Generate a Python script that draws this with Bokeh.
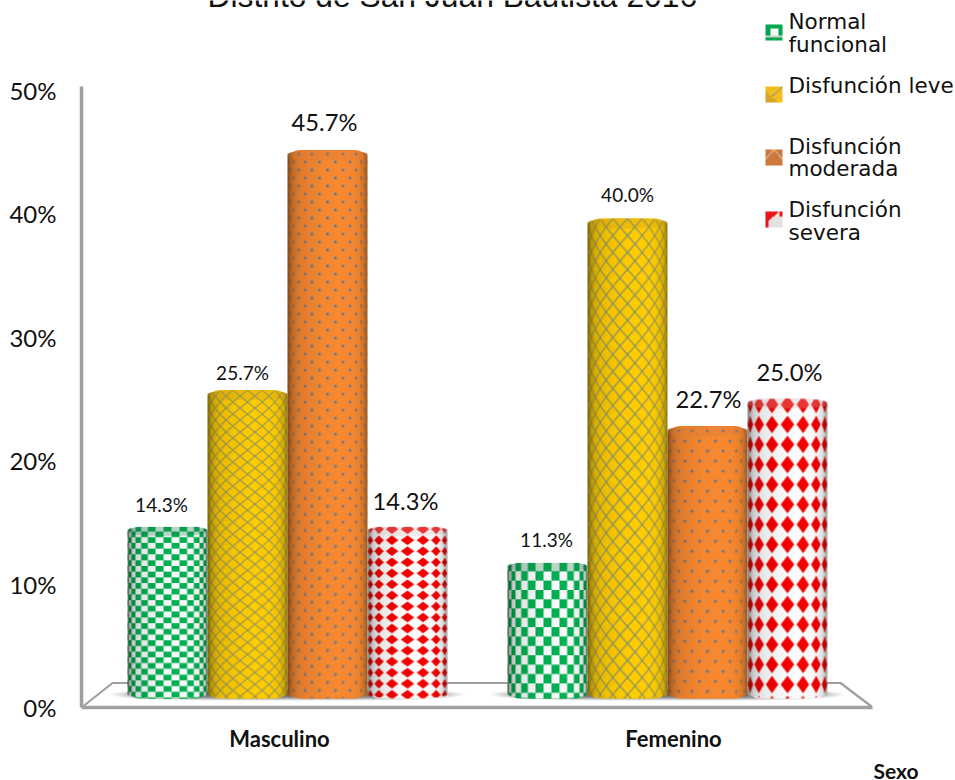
import numpy as np
from bokeh.core.properties import value
from bokeh.embed import file_html
from bokeh.models import FixedTicker, LinearAxis, Range1d
from bokeh.plotting import figure
from bokeh.resources import INLINE

# Percentages by sex and degree of dysfunction
groups = ["Masculino", "Femenino"]
series = ["Normal\nfuncional", "Disfunción leve", "Disfunción\nmoderada", "Disfunción\nsevera"]
masculino = [14.3, 25.7, 45.7, 14.3]
femenino = [11.3, 40.0, 22.7, 25.0]
y_ticks = [0, 10, 20, 30, 40, 50]
title_text = "Distrito de San Juan Bautista 2016"
x_title = "Sexo"

# Page geometry, in pixels
W, H = 955, 780
LEFT, AXIS_Y = 81, 707
GROUP_PX = 380.0
GROUP0_PX = 287.0
BAR_PX = 80
BAR_SCALE = 12.0
BAR_BASE = 698.0
AXIS_SCALE = 12.34


def xd(px):
    return (px - GROUP0_PX) / GROUP_PX


def yd(py):
    return (BAR_BASE - py) / BAR_SCALE


BAR_W = BAR_PX / GROUP_PX

# The frame runs to the bottom of the page so the axis name can sit below the x axis
p = figure(
    width=W, height=H, output_backend="svg", toolbar_location=None,
    x_axis_location=None, y_axis_location=None,
    x_range=Range1d(xd(LEFT), xd(W)), y_range=Range1d(yd(H), yd(0)),
    min_border_left=LEFT, min_border_right=0, min_border_top=0, min_border_bottom=0,
    background_fill_color="white", border_fill_color="white",
)
p.outline_line_color = None
p.grid.visible = False
p.extra_y_ranges = {"pct": Range1d((AXIS_Y - H) / AXIS_SCALE, AXIS_Y / AXIS_SCALE)}

AXIS_GREY = "#A0A0A0"
LABEL_FONT = "Lato"

yaxis = LinearAxis(y_range_name="pct", ticker=FixedTicker(ticks=y_ticks),
                   major_label_overrides={t: f"{t}%" for t in y_ticks},
                   bounds=(0, 50.3),
                   axis_line_color=AXIS_GREY, axis_line_width=3.5,
                   major_tick_line_color=None, minor_tick_line_color=None,
                   major_label_standoff=19,
                   major_label_text_font=LABEL_FONT,
                   major_label_text_font_size="24px",
                   major_label_text_color="#111111")
p.add_layout(yaxis, "left")

tick_positions = [xd(279), xd(673)]
xaxis = LinearAxis(ticker=FixedTicker(ticks=tick_positions),
                   major_label_overrides=dict(zip(tick_positions, groups)),
                   bounds=(xd(LEFT - 1), xd(872)),
                   fixed_location=yd(AXIS_Y),
                   axis_line_color=AXIS_GREY, axis_line_width=3.5,
                   major_tick_line_color=None, minor_tick_line_color=None,
                   major_label_standoff=11,
                   major_label_text_font=LABEL_FONT,
                   major_label_text_font_style="bold",
                   major_label_text_font_size="22px",
                   major_label_text_color="#111111")
p.add_layout(xaxis, "below")

# Back edges of the chart floor
p.line([xd(83), xd(112), xd(840), xd(871)],
       [yd(705.5), yd(682.5), yd(682.5), yd(706)],
       line_color=AXIS_GREY, line_width=2.2)


def to_rgba(rgb, alpha):
    """Top-down float arrays to the bottom-up uint32 image Bokeh expects."""
    out = np.dstack([np.clip(rgb, 0, 255), np.clip(alpha, 0, 1) * 255]).round().astype(np.uint8)
    return np.flipud(out).view(np.uint32).reshape(out.shape[:2]).copy()


def cylinder_texture(kind, h, pitch, w=BAR_PX, ss=3):
    """Patterned surface of an upright cylinder, h pixels tall."""
    hh, ww = h * ss, w * ss
    yy, xx = np.mgrid[0:hh, 0:ww]
    yy = (yy + 0.5) / ss
    xx = (xx + 0.5) / ss
    s = (xx - w / 2) / (w / 2)
    a = (w / 2) * np.arcsin(np.clip(s, -1, 1))

    if kind == "checker":
        mask = ((np.floor(a / 8.2 + 0.5) + np.floor(yy / pitch)) % 2 == 0)
        rgb = np.where(mask[..., None], [0, 176, 80], [250, 250, 250]).astype(float)
        cap_tint = np.array([20, 120, 70.0])
    elif kind == "lattice":
        u1 = (a / 15 + yy / pitch) % 1
        u2 = (a / 15 - yy / pitch) % 1
        d1 = np.minimum(u1, 1 - u1)
        d2 = np.minimum(u2, 1 - u2)
        mask = np.minimum(d1, d2) < 0.055
        rgb = np.where(mask[..., None], [135, 145, 105], [255, 204, 0]).astype(float)
        cap_tint = np.array([190, 150, 30.0])
    elif kind == "dots":
        row = np.floor(yy / pitch)
        ax = a + (row % 2) * 8
        da = ((ax + 8) % 16) - 8
        dv = ((yy % pitch) - pitch / 2)
        mask = da ** 2 + dv ** 2 < 1.55 ** 2
        rgb = np.where(mask[..., None], [105, 120, 140], [247, 136, 48]).astype(float)
        cap_tint = np.array([215, 120, 60.0])
    else:
        da = ((a + 8) % 16) - 8
        dv = ((yy + pitch * 0.2) % pitch) - pitch / 2
        mask = np.abs(da) / 6.8 + np.abs(dv) / (pitch * 0.44) < 1
        rgb = np.where(mask[..., None], [245, 0, 0], [252, 252, 252]).astype(float)
        cap_tint = np.array([210, 190, 190.0])

    # Lighting across the curved face
    shade = 1 - 0.16 * ((s - 0.3) / 1.3) ** 2 - 0.34 * np.abs(s) ** 9
    rgb = rgb * shade[..., None]

    # Rounded top and bottom rims
    depth = 5.0
    e = np.clip(1 - np.abs(s) ** 2.5, 0, 1) ** (1 / 2.5)
    alpha = ((yy >= depth * (1 - e)) & (yy <= h - depth * (1 - e))).astype(float)
    cap = yy < depth * (1 + e)
    rgb = np.where(cap[..., None], 0.72 * rgb + 0.28 * cap_tint, rgb)

    # Average down to page pixels, weighting colour by coverage
    def shrink(arr):
        return arr.reshape(h, ss, w, ss, -1).mean(axis=(1, 3))

    al = shrink(alpha)
    col = shrink(rgb * alpha[..., None]) / np.maximum(al, 1e-3)
    return to_rgba(col, al[..., 0])


def floor_shadow(w, h):
    yy, xx = np.mgrid[0:h, 0:w]
    dx = (xx + 0.5 - w / 2) / (w / 2)
    dy = (yy + 0.5 - h / 2) / (h / 2)
    alpha = 0.9 * np.clip(1 - (np.abs(dx) ** 4 + dy ** 2), 0, 1)
    return to_rgba(np.full((h, w, 3), 90.0), alpha)


# Soft shadows under each group of bars
for cx_px in (287, 667):
    img = floor_shadow(356, 12)
    p.image_rgba(image=[img], x=[xd(cx_px - 178)], y=[yd(700)],
                 dw=[356 / GROUP_PX], dh=[12 / BAR_SCALE])

base_colors = ["#00A650", "#F4BE10", "#F0842E", "#F4F0F0"]
kinds = ["checker", "lattice", "dots", "diamonds"]
pitches = [[5.7, 12.0, 8.0, 11.0], [9.3, 17.0, 10.0, 20.0]]
offsets = [-1.5, -0.5, 0.5, 1.5]

# One cylinder per value: solid body with its patterned surface above it
for g, vals in enumerate([masculino, femenino]):
    for i, v in enumerate(vals):
        x_c = g + offsets[i] * BAR_W
        p.vbar(x=[x_c], width=BAR_W * 0.96, bottom=[0], top=[v],
               fill_color=base_colors[i], line_color=None, border_radius=10)
        h_px = int(round(v * BAR_SCALE))
        tex = cylinder_texture(kinds[i], h_px, pitches[g][i])
        p.image_rgba(image=[tex], x=[x_c - BAR_W / 2], y=[0],
                     dw=[BAR_W], dh=[v])

# Value labels
label_x = [g + o * BAR_W for g in range(2) for o in offsets]
label_y = masculino + femenino
label_txt = [f"{v:.1f}%" for v in label_y]
label_dx = [-6, -5, -3, -2, -1, 0, 1, 2]
label_dy = [-22, -18, -28, -26, -23, -24, -27, -27]
label_fs = ["19px", "19px", "23.7px", "23.7px", "19px", "19px", "23.7px", "23.7px"]
p.text(x=label_x, y=label_y, text=label_txt, x_offset=label_dx, y_offset=label_dy,
       text_align="center", text_baseline="middle", text_color="#111111",
       text_font=value(LABEL_FONT), text_font_size=label_fs)

# Title, running off the top of the page
p.text(x=[xd(207)], y=[yd(-5)], text=[title_text], text_align="left",
       text_baseline="alphabetic", text_color="#111111",
       text_font=value("Liberation Sans"), text_font_size="31.8px")


def legend_icon(i):
    n = 16
    yy, xx = np.mgrid[0:n, 0:n]
    if i == 0:
        rgb = np.full((n, n, 3), [0.0, 166, 80])
        rgb[4:11, 5:12] = [245, 250, 245]
        rgb[11:13, :] = [200, 210, 205]
    elif i == 1:
        rgb = np.full((n, n, 3), [240, 190, 30.0])
        rgb[np.abs(xx + yy - 15) < 1] = [120, 140, 150]
        rgb[yy > xx + 4] = [215, 165, 40]
    elif i == 2:
        rgb = np.full((n, n, 3), [205, 120, 60.0])
        rgb[np.abs(np.abs(xx - 7.5) - yy * 0.9) < 1] = [235, 170, 110]
        rgb[[3, 3, 8], [3, 12, 9]] = [40, 110, 190]
    else:
        rgb = np.full((n, n, 3), [230, 225, 225.0])
        rgb[xx + yy < 12] = [235, 20, 20]
        rgb[(xx > 12) & (yy < 5)] = [235, 20, 20]
        rgb[(xx < 3) & (yy > 8)] = [235, 20, 20]
    return to_rgba(rgb, np.ones((n, n)))


# Hand-placed key at the upper right
icon_top = [24, 86, 149, 211]
text_mid = [32.5, 85, 157, 220.5]
for i, name in enumerate(series):
    p.image_rgba(image=[legend_icon(i)], x=[xd(765)], y=[yd(icon_top[i] + 16)],
                 dw=[17 / GROUP_PX], dh=[16 / BAR_SCALE])
    p.text(x=[xd(788)], y=[yd(text_mid[i])], text=[name], text_align="left",
           text_baseline="middle", text_color="#111111",
           text_font=value("DejaVu Sans"), text_font_size="21.5px",
           text_line_height=0.9)

# Name of the x axis
p.text(x=[xd(873)], y=[yd(770)], text=[x_title], text_align="left",
       text_baseline="alphabetic", text_color="#111111",
       text_font=value(LABEL_FONT), text_font_style="bold", text_font_size="21px")

with open("out.html", "w") as fh:
    fh.write(file_html(p, INLINE))
